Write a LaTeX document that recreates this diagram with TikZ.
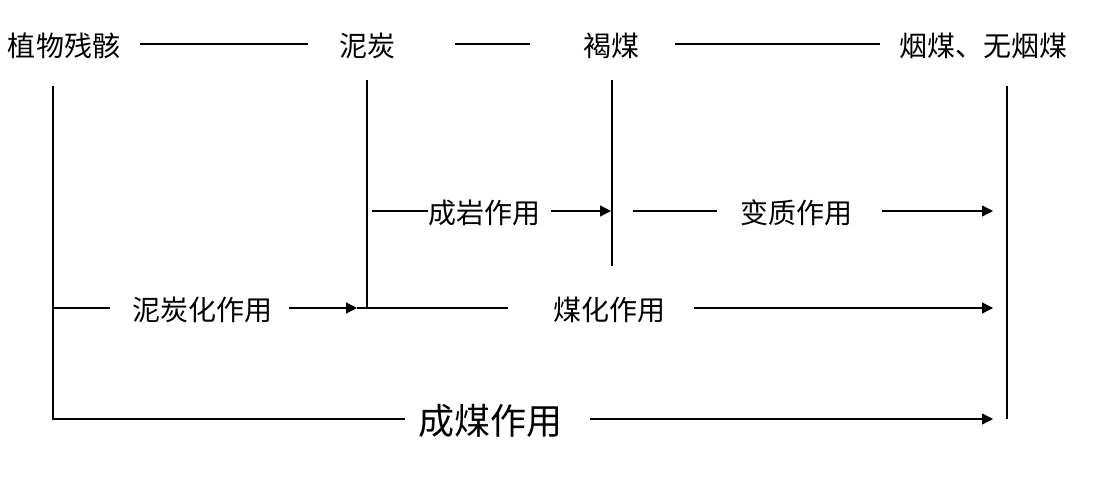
\documentclass[tikz,border=0pt]{standalone}
\usepackage{fontspec}
\newfontfamily\cjk{Noto Sans CJK SC}
\usetikzlibrary{arrows.meta}
\begin{document}
\begin{tikzpicture}[x=1pt,y=-1pt,
  lbl/.style={inner sep=0pt, font=\cjk\fontsize{28}{32}\selectfont},
  big/.style={inner sep=0pt, font=\cjk\fontsize{36}{40}\selectfont},
  ln/.style={line width=1.2pt, black},
  arr/.style={ln, -{Triangle[length=11pt,width=11pt]}}]
\useasboundingbox (0,0) rectangle (1107,476);
% top row
\node[lbl] (plant) at (64,46) {植物残骸};
\node[lbl] (peat) at (367,46) {泥炭};
\node[lbl] (lig) at (611,46) {褐煤};
\node[lbl] (bit) at (983,46) {烟煤、无烟煤};
\draw[ln] ([xshift=20pt,yshift=2pt]plant.east) -- ([xshift=-31pt,yshift=2pt]peat.west);
\draw[ln] ([xshift=60pt,yshift=2pt]peat.east) -- ([xshift=-53pt,yshift=2pt]lig.west);
\draw[ln] ([xshift=36pt,yshift=2pt]lig.east) -- ([xshift=-19pt,yshift=2pt]bit.west);
% vertical lines
\coordinate (v1t) at (53,86);
\coordinate (v1b) at (53,419);
\coordinate (v2t) at (367,80);
\coordinate (v2b) at (367,308);
\coordinate (v3t) at (612,80);
\coordinate (v3b) at (612,266);
\coordinate (v4t) at (1007,86);
\coordinate (v4b) at (1007,419);
\coordinate (r1) at (367,211);
\coordinate (r1b) at (612,211);
\coordinate (r2) at (1007,211);
\coordinate (r3) at (53,308);
\coordinate (r4) at (1007,308);
\draw[ln] (v2t) -- (v2b);
\draw[ln] (v3t) -- (v3b);
\draw[ln] (v4t) -- (v4b);
% process labels
\node[lbl] (cy) at (484,213) {成岩作用};
\node[lbl] (bz) at (796,213) {变质作用};
\node[lbl] (nt) at (202,310) {泥炭化作用};
\node[lbl] (mh) at (609,310) {煤化作用};
\node[big] (cm) at (490,421) {成煤作用};
% row 1
\draw[ln] ([xshift=5pt]r1) -- (cy.west |- r1);
\draw[arr] ([xshift=11pt]cy.east |- r1b) -- ([xshift=-1pt]r1b);
\draw[ln] ([xshift=21pt]r1b) -- ([xshift=-23pt]bz.west |- r1b);
\draw[arr] ([xshift=30pt]bz.east |- r2) -- ([xshift=-14pt]r2);
% row 2
\draw[ln] (r3) -- ([xshift=-22pt]nt.west |- r3);
\draw[arr] ([xshift=17pt]nt.east |- v2b) -- ([xshift=-10pt]v2b);
\draw[ln] ([xshift=-10pt]v2b) -- ([xshift=-45pt]mh.west |- v2b);
\draw[arr] ([xshift=29pt]mh.east |- r4) -- ([xshift=-14pt]r4);
% row 3
\draw[ln] (v1t) -- (v1b) -- ([xshift=-13pt]cm.west |- v1b);
\draw[arr] ([xshift=28pt]cm.east |- v4b) -- ([xshift=-14pt]v4b);
\end{tikzpicture}
\end{document}
